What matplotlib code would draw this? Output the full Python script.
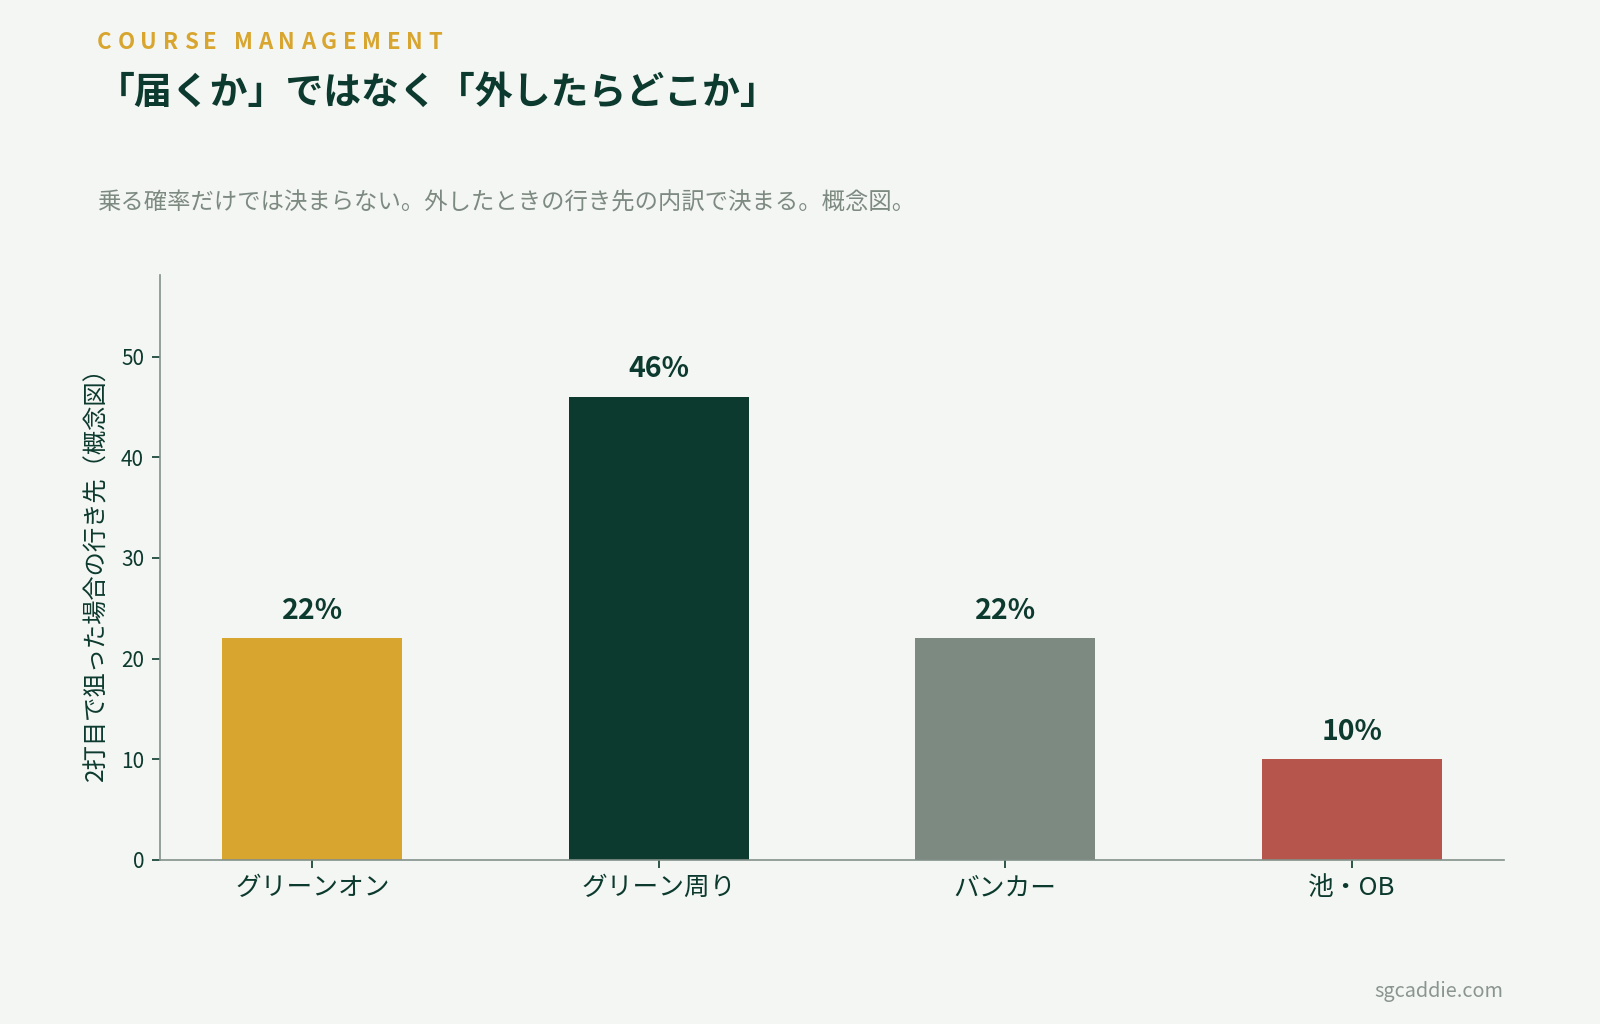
import matplotlib
matplotlib.use("Agg")
import matplotlib.pyplot as plt

plt.rcParams['font.family'] = ['Noto Sans CJK JP', 'DejaVu Sans']

# ---- data ----
categories = ["グリーンオン", "グリーン周り", "バンカー", "池・OB"]
values = [22, 46, 22, 10]
value_labels = ["22%", "46%", "22%", "10%"]
yticks = [0, 10, 20, 30, 40, 50]

kicker = "COURSE MANAGEMENT"
title = "「届くか」ではなく「外したらどこか」"
subtitle = "乗る確率だけでは決まらない。外したときの行き先の内訳で決まる。概念図。"
ylabel = "2打目で狙った場合の行き先（概念図）"
credit = "sgcaddie.com"

# ---- style ----
BG = "#f4f6f3"
DARK = "#0d3a2e"
GOLD = "#d8a52e"
GRAY = "#7d8a82"
RED = "#b5554b"
bar_colors = [GOLD, DARK, GRAY, RED]

W, H, DPI = 1600, 1024, 100
fig = plt.figure(figsize=(W / DPI, H / DPI), dpi=DPI, facecolor=BG)
ax = fig.add_axes([160 / W, 1 - 860 / H, (1504 - 160) / W, (860 - 275.5) / H])
ax.set_facecolor(BG)

x = list(range(len(categories)))
bars = ax.bar(x, values, width=0.52, color=bar_colors, zorder=2)
ax.set_xlim(-0.44, len(categories) - 1 + 0.44)
ax.set_ylim(0, 58.05)

for b, lab in zip(bars, value_labels):
    ax.annotate(lab, (b.get_x() + b.get_width() / 2, b.get_height()),
                xytext=(0, 14), textcoords="offset points", ha="center",
                va="baseline", fontsize=20.5, fontweight="bold", color=DARK)

ax.set_xticks(x)
ax.set_xticklabels(categories, fontsize=18.5, color=DARK)
ax.set_yticks(yticks)
ax.set_yticklabels([str(v) for v in yticks], fontsize=15, color=DARK)
ax.tick_params(axis="x", length=5.5, width=1.2, color=DARK, pad=5.5)
ax.tick_params(axis="y", length=5.5, width=1.2, color=DARK, pad=6)
for s in ("top", "right"):
    ax.spines[s].set_visible(False)
for s in ("left", "bottom"):
    ax.spines[s].set_color("#83908a")
    ax.spines[s].set_linewidth(1.2)
ax.set_ylabel(ylabel, fontsize=17.5, color=DARK, labelpad=8)

# ---- header texts ----
renderer = fig.canvas.get_renderer()

def text_width(s, **kw):
    if not s:
        return 0.0
    t = fig.text(0, 0, s + "|", **kw)
    w1 = t.get_window_extent(renderer).width
    t.remove()
    t = fig.text(0, 0, "|", **kw)
    w2 = t.get_window_extent(renderer).width
    t.remove()
    return w1 - w2

kick_kw = dict(fontsize=16, fontweight="bold", color=GOLD)
tracking = 5.8  # px
x0, yk = 97, 42.5
for i, ch in enumerate(kicker):
    if ch == " ":
        continue
    px = x0 + text_width(kicker[:i], **kick_kw) + i * tracking
    fig.text(px / W, 1 - yk / H, ch, ha="left", va="center", **kick_kw)

fig.text(97 / W, 1 - 93 / H, title, ha="left", va="center",
         fontsize=27.3, fontweight="bold", color=DARK)
fig.text(97 / W, 1 - 203 / H, subtitle, ha="left", va="center",
         fontsize=16.8, color=GRAY)
fig.text(1503 / W, 1 - 992 / H, credit, ha="right", va="center",
         fontsize=14.3, color="#8a958f")

fig.savefig("out.png", dpi=DPI, facecolor=BG)
